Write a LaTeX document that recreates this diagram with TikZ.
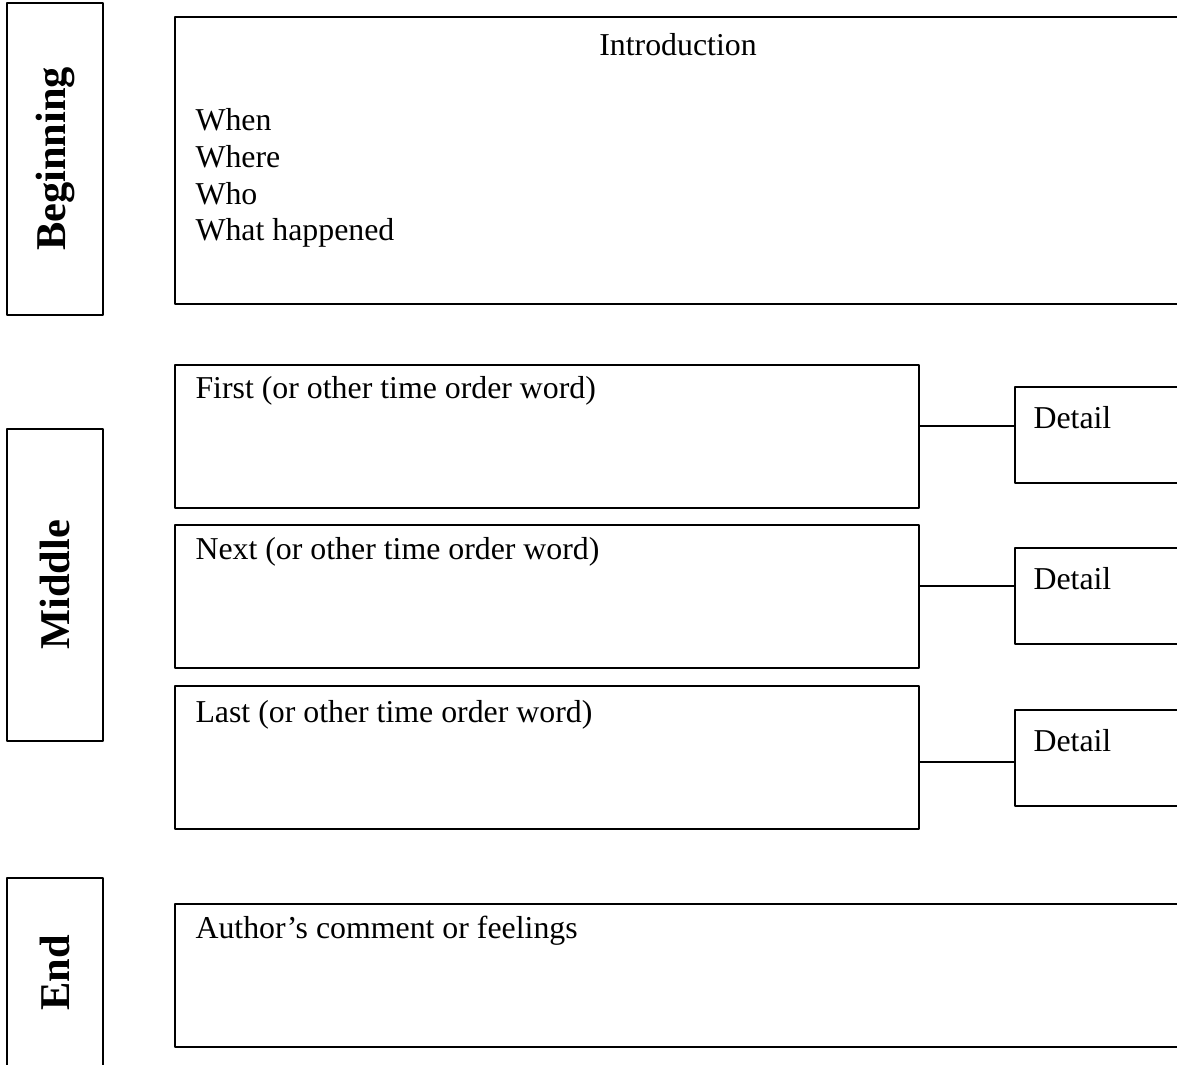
\documentclass[tikz,border=0pt]{standalone}
\usepackage{fontspec}
\setmainfont{Liberation Serif}
\usetikzlibrary{positioning}
\def\pxu{0.377pt}
\tikzset{
	box/.style={draw,line width=0.85pt,rectangle,inner sep=0pt,anchor=north west},
	side/.style={draw,line width=0.85pt,rectangle,inner sep=0pt,rotate=90,
		minimum width=312*\pxu,minimum height=96*\pxu,font=\fontsize{16}{19}\selectfont\bfseries},
	txt/.style={inner sep=0pt,anchor=base west,align=left},
	link/.style={line width=0.85pt}
}
\begin{document}
\begin{tikzpicture}[x=0.377pt,y=-0.377pt,line join=round,font=\fontsize{12}{13.9}\selectfont]
		\useasboundingbox (0,0) rectangle (1177,1065);
		\clip (0,0) rectangle (1177,1065);
		% labels on the left
		\node[side] (beg) at (55,159) {Beginning};
		\node[side] (mid) at (55,585) {Middle};
		\node[side,minimum width=190*\pxu] (fin) at (55,973) {End};
		% introduction
		\node[box,minimum width=1008*\pxu,minimum height=287*\pxu] (intro) at (174,16) {};
		\node[inner sep=0pt,anchor=base] (introtitle) at (678,56) {Introduction};
		\node[txt] (introtxt) at ([xshift=21*\pxu,yshift=-225*\pxu]intro.north west)
			{When\\Where\\Who\\What happened};
		% middle: time order boxes
		\node[box,minimum width=744*\pxu,minimum height=143*\pxu] (first) at (174,364) {};
		\node[box,minimum width=744*\pxu,minimum height=143*\pxu] (next) at (174,524) {};
		\node[box,minimum width=744*\pxu,minimum height=143*\pxu] (last) at (174,685) {};
		\node[txt] (firsttxt) at ([xshift=21*\pxu,yshift=-35*\pxu]first.north west) {First (or other time order word)};
		\node[txt] (nexttxt) at ([xshift=21*\pxu,yshift=-36*\pxu]next.north west) {Next (or other time order word)};
		\node[txt] (lasttxt) at ([xshift=21*\pxu,yshift=-38*\pxu]last.north west) {Last (or other time order word)};
		% details
		\node[box,minimum width=180*\pxu,minimum height=96*\pxu] (det1) at (1014,386) {};
		\node[box,minimum width=180*\pxu,minimum height=96*\pxu] (det2) at (1014,547) {};
		\node[box,minimum width=180*\pxu,minimum height=96*\pxu] (det3) at (1014,709) {};
		\foreach \d in {det1,det2,det3}
			\node[txt] (\d txt) at ([xshift=19*\pxu,yshift=-43*\pxu]\d.north west) {Detail};
		\draw[link] ([yshift=-40*\pxu]det1.north west) -- ([yshift=-40*\pxu]det1.north west -| first.east);
		\draw[link] ([yshift=-39*\pxu]det2.north west) -- ([yshift=-39*\pxu]det2.north west -| next.east);
		\draw[link] ([yshift=-53*\pxu]det3.north west) -- ([yshift=-53*\pxu]det3.north west -| last.east);
		% end
		\node[box,minimum width=1008*\pxu,minimum height=143*\pxu] (author) at (174,903) {};
		\node[txt] (authortxt) at ([xshift=21*\pxu,yshift=-35*\pxu]author.north west) {Author’s comment or feelings};
\end{tikzpicture}
\end{document}
